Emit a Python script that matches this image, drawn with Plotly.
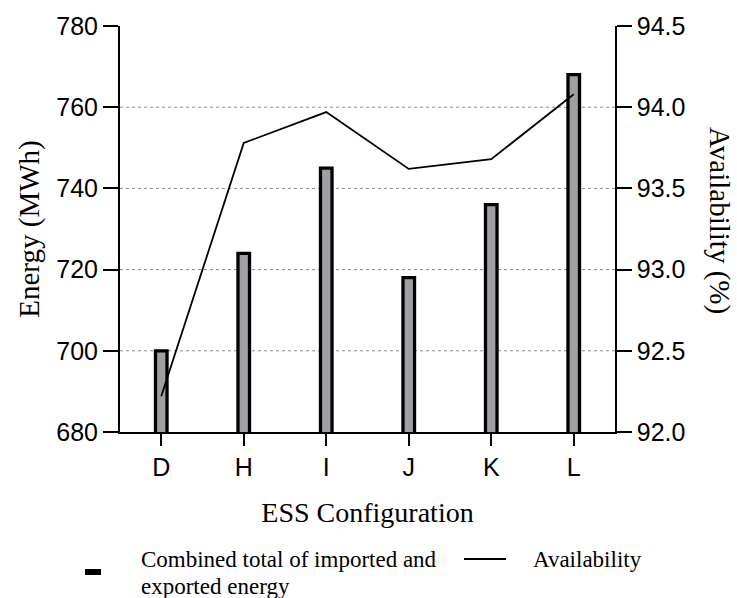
import plotly.graph_objects as go

# ESS configurations and results
configs = ["D", "H", "I", "J", "K", "L"]
energy_mwh = [700, 724, 745, 718, 736, 768]          # combined imported + exported energy
availability_pct = [92.22, 93.78, 93.97, 93.62, 93.68, 94.08]

energy_ticks = [680, 700, 720, 740, 760, 780]
avail_ticks = [92.0, 92.5, 93.0, 93.5, 94.0, 94.5]
grid_vals = [700, 720, 740, 760]

W, H = 737, 598
ML, MR, MT, MB = 120, 122, 26, 166
PW, PH = W - ML - MR, H - MT - MB

SANS = "Liberation Sans, Arial, sans-serif"
SERIF = "Liberation Serif, Times New Roman, serif"
BAR_FILL = "#a0a0a4"


def px_x(x):
    return (x - ML) / PW


def px_y(y):
    return (H - MB - y) / PH


fig = go.Figure()

fig.add_trace(go.Bar(
    x=configs, y=energy_mwh, width=0.14,
    marker=dict(color=BAR_FILL, line=dict(color="black", width=3.3)),
    name="Combined total of imported and exported energy",
    showlegend=False,
))

fig.add_trace(go.Scatter(
    x=configs, y=availability_pct, yaxis="y2", mode="lines",
    line=dict(color="black", width=1.8),
    name="Availability", showlegend=False,
))

# dotted horizontal guides
shapes = [
    dict(type="line", xref="paper", x0=0, x1=1, yref="y", y0=v, y1=v,
         line=dict(color="#8a8a8a", width=1, dash="3px,3px"), layer="below")
    for v in grid_vals
]

# legend swatches
shapes.append(dict(type="rect", xref="paper", yref="paper",
                   x0=px_x(86.5), x1=px_x(99.5), y0=px_y(573.5), y1=px_y(570.5),
                   fillcolor=BAR_FILL, line=dict(color="black", width=3)))
shapes.append(dict(type="line", xref="paper", yref="paper",
                   x0=px_x(464), x1=px_x(506), y0=px_y(559), y1=px_y(559),
                   line=dict(color="black", width=2)))

legend_font = dict(family=SERIF, size=23, color="black")
annotations = [
    dict(text="Combined total of imported and", xref="paper", yref="paper",
         x=px_x(139), y=px_y(559), xanchor="left", yanchor="middle",
         showarrow=False, font=legend_font),
    dict(text="exported energy", xref="paper", yref="paper",
         x=px_x(139), y=px_y(586), xanchor="left", yanchor="middle",
         showarrow=False, font=legend_font),
    dict(text="Availability", xref="paper", yref="paper",
         x=px_x(531), y=px_y(559), xanchor="left", yanchor="middle",
         showarrow=False, font=legend_font),
    dict(text="Availability (%)", xref="paper", yref="paper",
         x=px_x(720), y=px_y(220), xanchor="center", yanchor="middle",
         textangle=90, showarrow=False,
         font=dict(family=SERIF, size=29, color="black")),
]

fig.update_layout(
    width=W, height=H,
    margin=dict(l=ML, r=MR, t=MT, b=MB),
    paper_bgcolor="white", plot_bgcolor="white",
    showlegend=False,
    shapes=shapes,
    annotations=annotations,
    xaxis=dict(
        type="category", categoryorder="array", categoryarray=configs,
        range=[-0.5, len(configs) - 0.5],
        showline=True, linecolor="black", linewidth=2,
        ticks="outside", ticklen=12, tickwidth=2, tickcolor="black",
        tickfont=dict(family=SANS, size=25, color="black"),
        showgrid=False, zeroline=False,
        title=dict(text="ESS Configuration", standoff=22,
                   font=dict(family=SERIF, size=28, color="black")),
    ),
    yaxis=dict(
        range=[energy_ticks[0], energy_ticks[-1]], tickvals=energy_ticks,
        showline=True, linecolor="black", linewidth=2,
        ticks="outside", ticklen=15, tickwidth=2, tickcolor="black",
        tickfont=dict(family=SANS, size=25, color="black"),
        showgrid=False, zeroline=False,
        title=dict(text="Energy (MWh)", standoff=8,
                   font=dict(family=SERIF, size=29, color="black")),
    ),
    yaxis2=dict(
        overlaying="y", side="right",
        range=[avail_ticks[0], avail_ticks[-1]], tickvals=avail_ticks,
        tickformat=".1f",
        showline=True, linecolor="black", linewidth=1.5,
        ticks="outside", ticklen=15, tickwidth=2, tickcolor="black",
        tickfont=dict(family=SANS, size=25, color="black"),
        showgrid=False, zeroline=False,
    ),
)

fig.write_html("out.html")
